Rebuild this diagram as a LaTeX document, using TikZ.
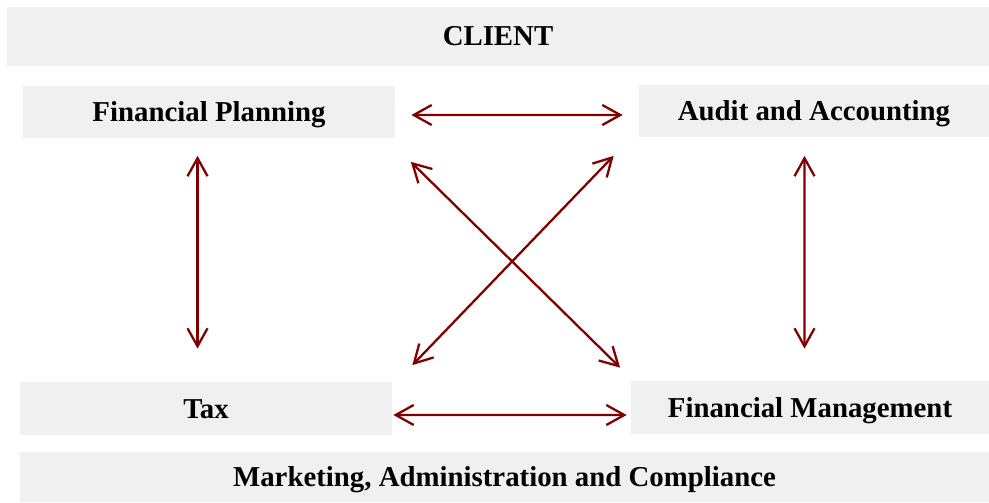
\documentclass[tikz,border=0pt]{standalone}
\usepackage{fontspec}
\setmainfont{Liberation Serif}
\usepackage{xcolor}
\usepackage{tikz}
\usetikzlibrary{calc}
\usetikzlibrary{arrows.meta}

\definecolor{boxgray}{RGB}{240,240,240}
\definecolor{linkred}{RGB}{128,0,0}

\begin{document}
\begin{tikzpicture}[
	box/.style={fill=boxgray,inner sep=0pt,minimum height=1.04cm,text height=0.38cm,text depth=0pt,font=\bfseries\fontsize{16.4}{18}\selectfont},
	link/.style={linkred,line width=1.3pt,{Straight Barb[length=0.36cm,width=0.40cm,line width=1.3pt]}-{Straight Barb[length=0.36cm,width=0.40cm,line width=1.3pt]}}]
	\useasboundingbox (0,0) rectangle (19.78,10.04);
	\node[box,minimum width=19.64cm,minimum height=1.18cm] (client) at (9.96,9.31) {CLIENT};
	\node[box,minimum width=7.44cm] (fp) at (4.18,7.80) {Financial Planning};
	\node[box,minimum width=7.00cm] (aa) at (16.28,7.82) {Audit and Accounting};
	\node[box,minimum width=7.44cm,minimum height=1.06cm] (tax) at (4.12,1.87) {Tax};
	\node[box,minimum width=7.16cm,minimum height=1.06cm] (fm) at (16.20,1.89) {Financial Management};
	\node[box,minimum width=19.38cm,minimum height=1.00cm] (mac) at (10.09,0.50) {Marketing, Administration and Compliance};
	% links
	\draw[link] ($(fp.east)+(0.32,-0.06)$) -- ($(aa.west)+(-0.32,-0.08)$);
	\draw[link] ($(tax.east)+(0.02,-0.13)$) -- ($(fm.west)+(-0.08,-0.15)$);
	\draw[link] ($(fp.south)+(-0.23,-0.35)$) -- ($(tax.north)+(-0.17,0.66)$);
	\draw[link] ($(aa.south)+(-0.19,-0.37)$) -- ($(fm.north)+(-0.11,0.64)$);
	\draw[link] ($(fp.south east)+(0.31,-0.47)$) -- ($(fm.north west)+(-0.21,0.26)$);
	\draw[link] ($(tax.north east)+(0.40,0.33)$) -- ($(aa.south west)+(-0.50,-0.37)$);
\end{tikzpicture}
\end{document}
